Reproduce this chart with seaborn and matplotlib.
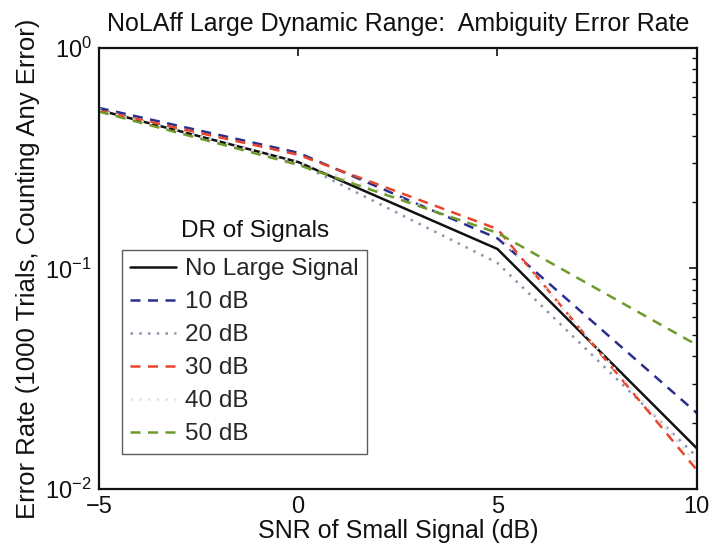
import numpy as np
import pandas as pd
import matplotlib
matplotlib.use("Agg")
import matplotlib.pyplot as plt
import seaborn as sns
from matplotlib.ticker import LogLocator, NullFormatter

sns.set_theme(style="white")
plt.rcParams["font.family"] = ["Liberation Sans", "DejaVu Sans"]
plt.rcParams["mathtext.fontset"] = "custom"
plt.rcParams["mathtext.rm"] = "Liberation Sans"

# SNR of the small signal (dB)
snr = [-5, 0, 5, 10]

# Ambiguity error rate per dynamic-range setting
series_names = ["No Large Signal", "10 dB", "20 dB", "30 dB", "40 dB", "50 dB"]
err_none = [0.523, 0.304, 0.1226, 0.0153]
err_10 = [0.535, 0.335, 0.137, 0.0221]
err_20 = [0.53, 0.300, 0.106, 0.0140]
err_30 = [0.52, 0.328, 0.151, 0.0122]
err_40 = [0.52, 0.305, 0.145, 0.0130]
err_50 = [0.515, 0.295, 0.145, 0.0450]

values = [err_none, err_10, err_20, err_30, err_40, err_50]
df = pd.DataFrame({
    "snr": np.tile(snr, len(series_names)),
    "err": np.concatenate(values),
    "dr": np.repeat(series_names, len(snr)),
})

palette = {
    "No Large Signal": "#111111",
    "10 dB": "#2a2f8c",
    "20 dB": "#8a97ad",
    "30 dB": "#e8452c",
    "40 dB": "#e2e2e6",
    "50 dB": "#6f9a2a",
}
dashes = {
    "No Large Signal": "",
    "10 dB": (4, 3),
    "20 dB": (1, 2.5),
    "30 dB": (4, 3),
    "40 dB": (1, 2.5),
    "50 dB": (4, 3),
}

fig, ax = plt.subplots(figsize=(7.11, 5.55), dpi=100)
fig.subplots_adjust(left=0.139, right=0.980, top=0.9135, bottom=0.119)

sns.lineplot(data=df, x="snr", y="err", hue="dr", style="dr",
             hue_order=series_names, style_order=series_names,
             palette=palette, dashes=dashes, linewidth=1.8, ax=ax,
             legend=True)

ax.set_yscale("log")
ax.set_xlim(-5, 10)
ax.set_ylim(1e-2, 1e0)
ax.set_xticks([-5, 0, 5, 10])
ax.set_xticklabels(["\u22125", "0", "5", "10"])
ax.yaxis.set_major_locator(LogLocator(base=10, numticks=5))
ax.yaxis.set_minor_locator(LogLocator(base=10, subs=np.arange(2, 10), numticks=20))
ax.yaxis.set_minor_formatter(NullFormatter())

ax.tick_params(axis="both", which="both", direction="in", top=True, right=True,
               labelsize=17, colors="#111111")
ax.tick_params(which="major", length=6, width=1.2, pad=5)
ax.tick_params(which="minor", length=3.5, width=1.0)
for s in ax.spines.values():
    s.set_color("#111111")
    s.set_linewidth(1.6)

ax.set_xlabel("SNR of Small Signal (dB)", fontsize=18, color="#111111", labelpad=1)
ax.set_ylabel("Error Rate (1000 Trials, Counting Any Error)", fontsize=18.5,
              color="#111111", labelpad=4)
ax.set_title("NoLAff Large Dynamic Range:  Ambiguity Error Rate", fontsize=18,
             color="#111111", pad=12)

handles, labels = ax.get_legend_handles_labels()
leg = ax.legend(handles, labels, loc="upper left", bbox_to_anchor=(0.038, 0.542),
                fontsize=17.5, frameon=True, fancybox=False, handlelength=1.9,
                handletextpad=0.35, labelspacing=0.45, borderpad=0.35,
                borderaxespad=0)
leg.get_frame().set_edgecolor("#333333")
leg.get_frame().set_linewidth(1.0)
ax.text(0.261, 0.585, "DR of Signals", transform=ax.transAxes, fontsize=17.5,
        color="#111111", ha="center", va="center")

fig.savefig("out.png", dpi=100)
